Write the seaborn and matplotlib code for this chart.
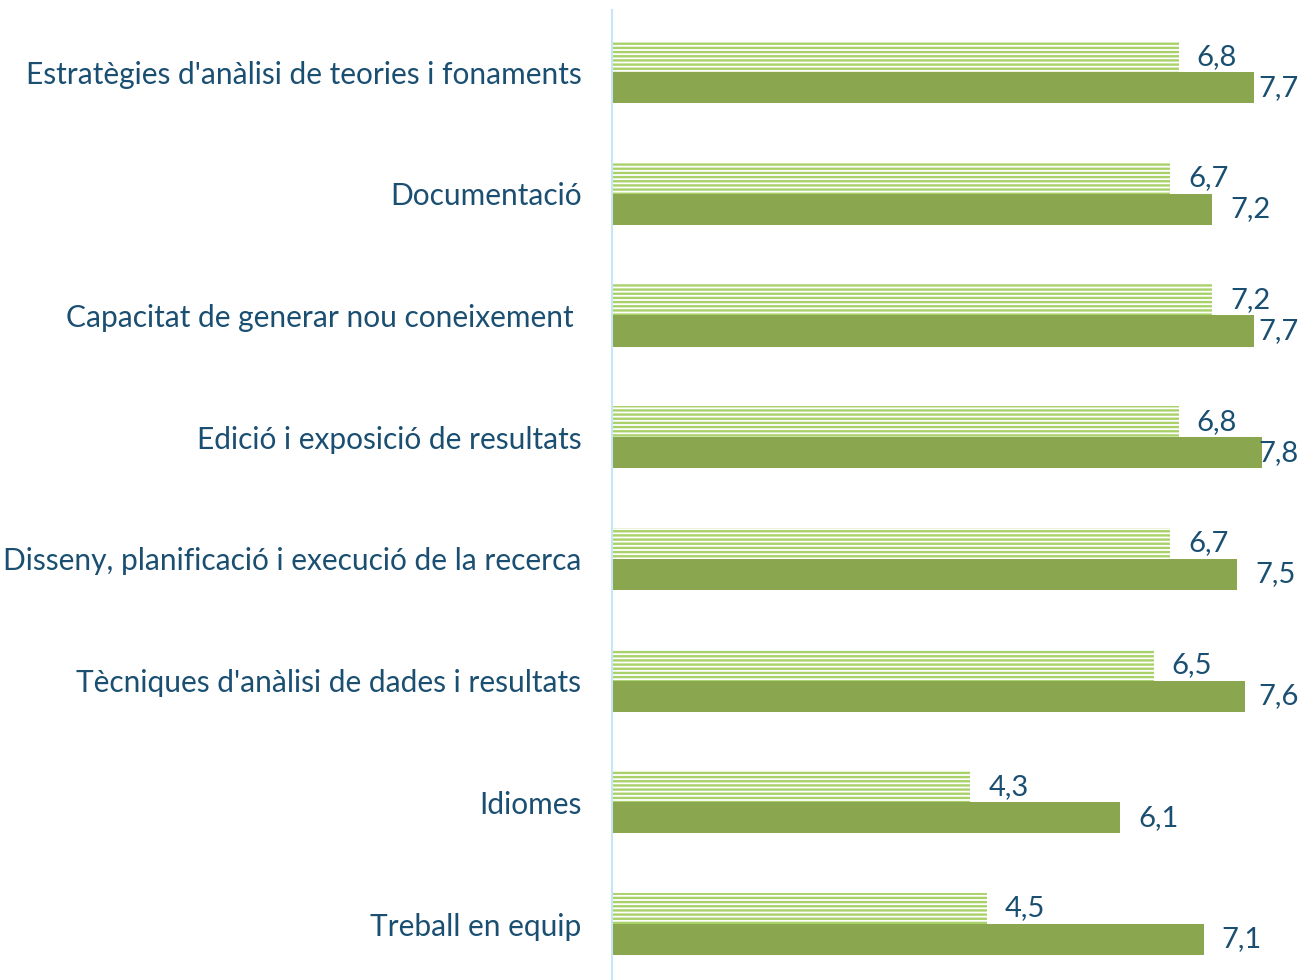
import pandas as pd
import numpy as np
import matplotlib.pyplot as plt
import seaborn as sns

# data
categories = [
    "Estratègies d'anàlisi de teories i fonaments",
    "Documentació",
    "Capacitat de generar nou coneixement ",
    "Edició i exposició de resultats",
    "Disseny, planificació i execució de la recerca",
    "Tècniques d'anàlisi de dades i resultats",
    "Idiomes",
    "Treball en equip",
]
series_names = ["A", "B"]
values_a = [6.8, 6.7, 7.2, 6.8, 6.7, 6.5, 4.3, 4.5]
values_b = [7.7, 7.2, 7.7, 7.8, 7.5, 7.6, 6.1, 7.1]

df = pd.DataFrame({
    "cat": categories * 2,
    "serie": [series_names[0]] * len(categories) + [series_names[1]] * len(categories),
    "val": values_a + values_b,
})

sns.set_style("white")
plt.rcParams['font.family'] = ['Lato', 'DejaVu Sans']
plt.rcParams['hatch.linewidth'] = 1.7

text_col = '#1B4F72'
light_green = '#A9D16A'
dark_green = '#8AA64F'

fig = plt.figure(figsize=(13.03, 9.8), dpi=100)
ax = fig.add_axes([612 / 1303, 0.0, 1 - 612 / 1303, 970 / 980])

sns.barplot(data=df, y="cat", x="val", hue="serie", order=categories,
            hue_order=series_names, palette=['white', dark_green],
            width=0.51, gap=0, saturation=1, legend=False, ax=ax)

# first series drawn as horizontal stripes
for bar in ax.containers[0]:
    bar.set_facecolor('white')
    bar.set_edgecolor(light_green)
    bar.set_hatch('----')
    bar.set_linewidth(0)
for bar in ax.containers[1]:
    bar.set_linewidth(0)

anns = []
for cont in ax.containers:
    labels = [f"{v:.1f}".replace('.', ',') for v in cont.datavalues]
    anns += ax.bar_label(cont, labels=labels, padding=13, fontsize=21, color=text_col)

ax.set_xlim(0, 8.29)
ax.set_ylim(7.46, -0.51)
ax.set_xlabel('')
ax.set_ylabel('')
ax.set_xticks([])
ax.tick_params(axis='y', length=0, pad=22, labelsize=21.5, labelcolor=text_col)

for s in ['top', 'right', 'bottom']:
    ax.spines[s].set_visible(False)
ax.spines['left'].set_color('#C6E6F8')
ax.spines['left'].set_linewidth(1.5)

# squeeze labels that would run past the right edge (as in the original)
fig.canvas.draw()
r = fig.canvas.get_renderer()
for a in anns:
    x1 = a.get_window_extent(r).x1
    if x1 > 1299:
        dx, dy = a.xyann
        a.xyann = (dx - (x1 - 1299) * 72 / 100, dy)

fig.savefig('out.png', dpi=100)
